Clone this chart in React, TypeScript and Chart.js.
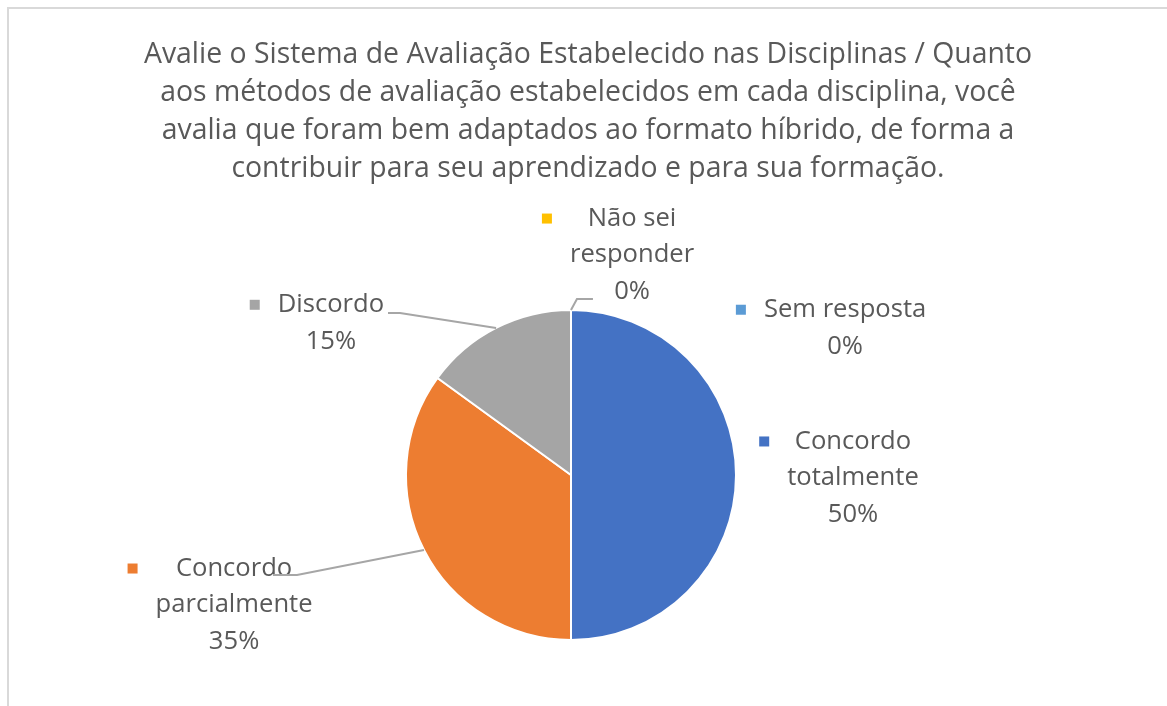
import React, { useEffect, useRef } from "react";
import { Chart, registerables } from "chart.js";

Chart.register(...registerables);

const titleLines = [
  "Avalie o Sistema de Avaliação Estabelecido nas Disciplinas / Quanto",
  "aos métodos de avaliação estabelecidos em cada disciplina, você",
  "avalia que foram bem adaptados ao formato híbrido, de forma a",
  "contribuir para seu aprendizado e para sua formação.",
];
const categories = [
  "Concordo totalmente",
  "Concordo parcialmente",
  "Discordo",
  "Não sei responder",
  "Sem resposta",
];
const values = [50, 35, 15, 0, 0];
const labelLines = [
  ["Concordo", "totalmente"],
  ["Concordo", "parcialmente"],
  ["Discordo"],
  ["Não sei", "responder"],
  ["Sem resposta"],
];
const colors = ["#4472C4", "#ED7D31", "#A5A5A5", "#FFC000", "#5B9BD5"];

// layout (not data)
const W = 1167;
const H = 706;
const PIE_CX = 571;
const PIE_CY = 475;
const PIE_R = 165;
const FONT = "'Open Sans', 'Noto Sans', sans-serif";
const TEXT_COLOR = "#595959";
const TITLE_SIZE = 28.4;
const TITLE_X = 588;
const TITLE_BASE = 63;
const TITLE_LH = 38;
const LABEL_SIZE = 25.6;
const LABEL_LH = 36.5;

// label placement in radius units relative to the pie centre
const labelPlacement = [
  { dx: 1.709, dy: 0.018, leader: null },
  { dx: -2.042, dy: 0.788, leader: { dx: -1.806, dy: 0.606, elbow: 24 } },
  { dx: -1.455, dy: -0.921, leader: { dx: -1.109, dy: -0.982, elbow: 12 } },
  { dx: 0.37, dy: -1.333, leader: { dx: 0.133, dy: -1.067, elbow: -16 } },
  { dx: 1.661, dy: -0.891, leader: null },
];

const overlayPlugin = {
  id: "overlay",
  beforeDraw(chart: any) {
    const ctx = chart.ctx;
    ctx.save();
    ctx.fillStyle = "#ffffff";
    ctx.fillRect(0, 0, chart.width, chart.height);
    ctx.strokeStyle = "#d9d9d9";
    ctx.lineWidth = 2;
    ctx.strokeRect(8, 8, 3000, 3000);
    ctx.restore();
  },
  afterDraw(chart: any) {
    const ctx = chart.ctx;
    const meta = chart.getDatasetMeta(0);
    const data = chart.data.datasets[0].data as number[];
    const total = data.reduce((a, b) => a + b, 0);
    ctx.save();
    // title
    ctx.fillStyle = TEXT_COLOR;
    ctx.font = `${TITLE_SIZE}px ${FONT}`;
    ctx.textAlign = "center";
    ctx.textBaseline = "alphabetic";
    titleLines.forEach((t, i) => ctx.fillText(t, TITLE_X, TITLE_BASE + i * TITLE_LH));

    // labels
    ctx.font = `${LABEL_SIZE}px ${FONT}`;
    ctx.textBaseline = "middle";
    meta.data.forEach((arc: any, i: number) => {
      const p = labelPlacement[i];
      const r = arc.outerRadius;
      const cx = arc.x;
      const cy = arc.y;
      const pct = Math.round((data[i] / total) * 100) + "%";
      const lines = [...labelLines[i], pct];
      const bx = cx + p.dx * r;
      const by = cy + p.dy * r;
      const firstY = by - ((lines.length - 1) / 2) * LABEL_LH;
      let maxW = 0;
      lines.forEach((l) => (maxW = Math.max(maxW, ctx.measureText(l).width)));
      ctx.fillStyle = TEXT_COLOR;
      ctx.textAlign = "center";
      lines.forEach((l, j) => ctx.fillText(l, bx, firstY + j * LABEL_LH));
      // legend key
      ctx.fillStyle = colors[i];
      const kx = bx - maxW / 2 - 23;
      ctx.fillRect(kx - 5, firstY - 5, 10, 10);
      // leader line
      if (p.leader) {
        const mid = (arc.startAngle + arc.endAngle) / 2;
        const sx = cx + Math.cos(mid) * r;
        const sy = cy + Math.sin(mid) * r;
        const ex = cx + p.leader.dx * r;
        const ey = cy + p.leader.dy * r;
        ctx.strokeStyle = "#a6a6a6";
        ctx.lineWidth = 2;
        ctx.beginPath();
        ctx.moveTo(sx, sy);
        ctx.lineTo(ex + p.leader.elbow, ey);
        ctx.lineTo(ex, ey);
        ctx.stroke();
      }
    });
    ctx.restore();
  },
};

export default function App() {
  const ref = useRef<HTMLCanvasElement>(null);
  useEffect(() => {
    if (!ref.current) return;
    const spacing = 2;
    const chart = new Chart(ref.current, {
      type: "pie",
      data: {
        labels: categories,
        datasets: [
          {
            data: values,
            backgroundColor: colors,
            borderColor: "#ffffff",
            borderWidth: 2,
          },
        ],
      },
      options: {
        responsive: false,
        animation: false,
        layout: {
          padding: {
            left: PIE_CX - PIE_R - spacing / 2,
            right: W - (PIE_CX + PIE_R + spacing / 2),
            top: PIE_CY - PIE_R - spacing / 2,
            bottom: H - (PIE_CY + PIE_R + spacing / 2),
          },
        },
        plugins: {
          legend: { display: false },
          tooltip: { enabled: false },
          title: { display: false },
        },
      },
      plugins: [overlayPlugin],
    });
    return () => chart.destroy();
  }, []);
  return (
    <div style={{ position: "absolute", left: 0, top: 0, width: W, height: H }}>
      <canvas ref={ref} width={W} height={H} style={{ display: "block" }} />
    </div>
  );
}
